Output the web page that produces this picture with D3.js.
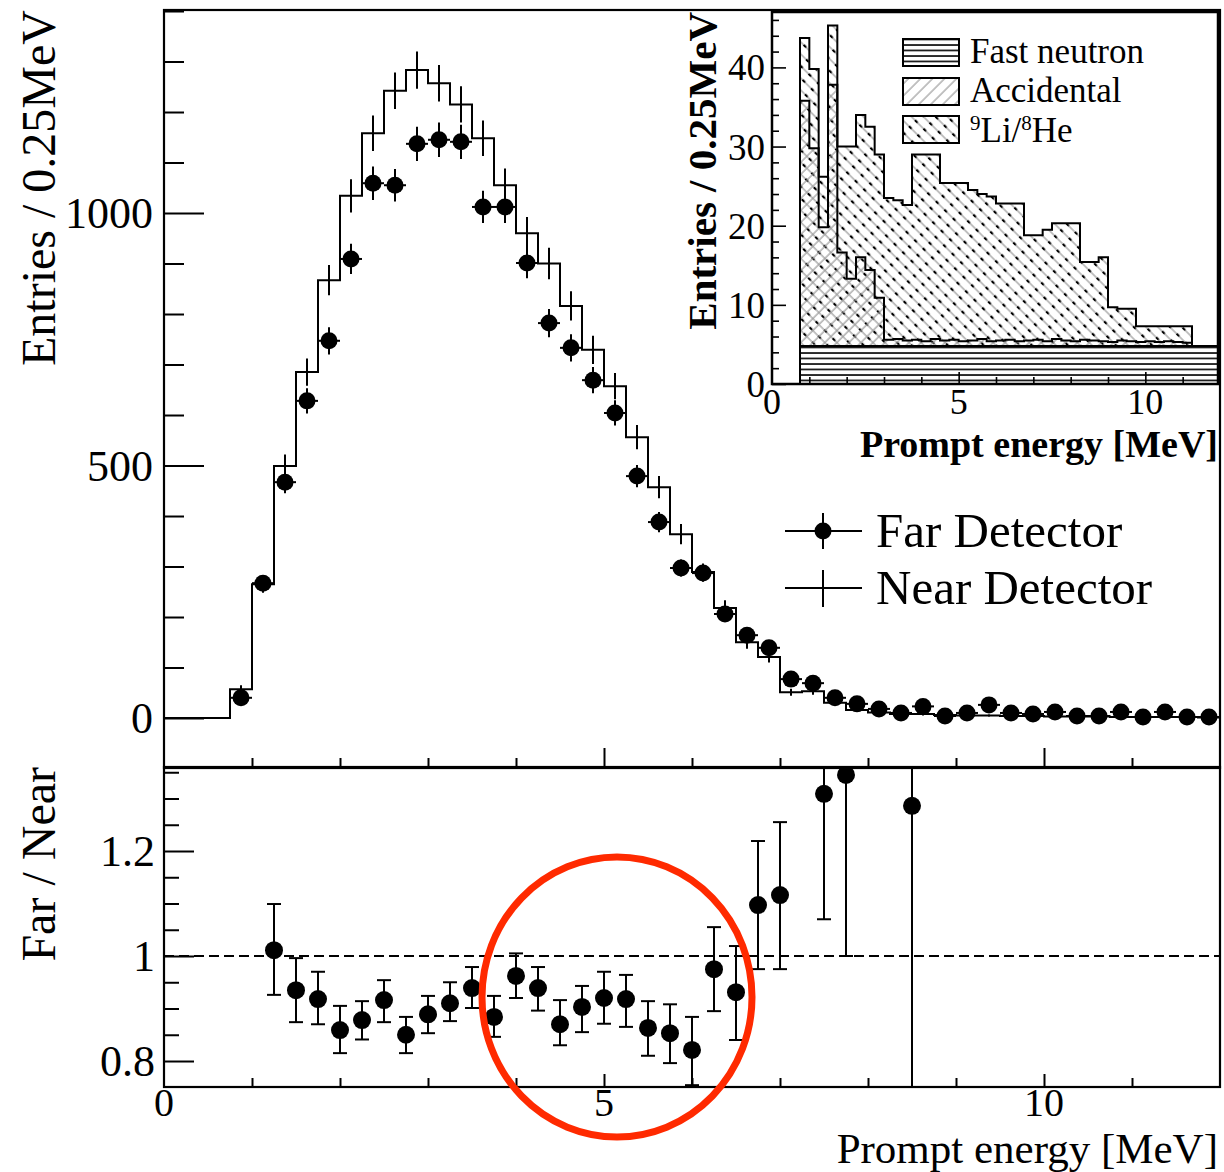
<!DOCTYPE html>
<html><head><meta charset="utf-8">
<script src="https://cdn.jsdelivr.net/npm/d3@7"></script>
<style>
body{margin:0;background:#fff}
svg{display:block}
text{font-family:"Liberation Serif","Times New Roman",serif;fill:#000}
</style>
</head><body>
<svg id="c" width="1224" height="1172"></svg>
<script>
// ---------------- DATA ----------------
// 0.25 MeV bins, low edges from 0.75 MeV to 11.75 MeV (45 bins)
const binLowEdges = d3.range(45).map(i => 0.75 + i * 0.25);
const binWidth = 0.25;

const nearCounts = [57,265,499,685,867,1034,1158,1242,1283,1257,1215,1148,1055,960,900,816,729,657,556,457,364,289,218,150,121,51,53,30,16,11,8,8,6,5,5,4,4,3,3,3,2,2,2,2,1];
const nearErrors = [8,17,23,27,30,33,35,36,37,36,36,35,33,32,31,29,28,26,24,22,20,17,15,13,11,7,7,6,4,3,3,3,2,2,2,2,2,2,2,2,1,1,1,1,1];

const farCounts = [40,267,467,628,747,909,1059,1055,1137,1145,1141,1012,1012,901,782,733,669,604,479,388,297,287,206,164,139,77,69,40,28,18,10,23,4,10,26,10,8,12,4,4,12,2,12,2,2];
const farErrors = [6,16,22,25,27,30,33,32,34,34,34,32,32,30,28,27,26,25,22,20,17,17,14,13,12,9,8,6,5,4,3,5,2,3,5,3,3,3,2,2,3,1,3,1,1];

const ratioEnergy = [1.25,1.5,1.75,2.0,2.25,2.5,2.75,3.0,3.25,3.5,3.75,4.0,4.25,4.5,4.75,5.0,5.25,5.5,5.75,6.0,6.25,6.5,6.75,7.0,7.5,7.75,8.5];
const ratioValue  = [1.011,0.935,0.918,0.859,0.878,0.916,0.850,0.889,0.910,0.939,0.884,0.962,0.939,0.870,0.903,0.920,0.918,0.863,0.853,0.821,0.975,0.931,1.097,1.116,1.309,1.345,1.286];
const ratioLow    = [0.926,0.874,0.870,0.815,0.841,0.874,0.815,0.853,0.876,0.901,0.846,0.920,0.896,0.830,0.855,0.871,0.865,0.810,0.796,0.754,0.895,0.840,0.975,0.975,1.070,1.000,0.000];
const ratioHigh   = [1.099,0.996,0.970,0.905,0.914,0.954,0.884,0.924,0.950,0.979,0.924,1.005,0.979,0.916,0.943,0.970,0.964,0.914,0.908,0.884,1.055,1.019,1.219,1.255,1.600,1.700,2.600];

// inset: background components per 0.25 MeV bin (same bins)
const fastNeutron = [4.8,4.8,4.8,4.8,4.8,4.8,4.8,4.8,4.8,4.8,4.8,4.8,4.8,4.8,4.8,4.8,4.8,4.8,4.8,4.8,4.8,4.8,4.8,4.8,4.8,4.8,4.8,4.8,4.8,4.8,4.8,4.8,4.8,4.8,4.8,4.8,4.8,4.8,4.8,4.8,4.8,4.8,4.8,4.8,4.8];
const accidental  = [31,25,15,33,11.8,8.5,11.2,9.6,6.1,0.8,0.9,0.7,0.8,0.6,0.9,0.7,0.8,0.6,0.7,0.9,0.6,0.7,0.8,0.6,0.7,0.8,0.6,0.9,0.7,0.6,0.8,0.7,0.6,0.5,0.7,0.6,0.5,0.6,0.5,0.6,0.5,0.4,0,0,0];
const li9he8      = [7.9,10.0,6.4,7.5,13.4,16.7,18.0,18.1,18.1,17.9,17.5,17.1,23.4,23.6,23.3,19.9,19.8,20.0,19.0,18.3,18.3,17.3,17.2,17.4,13.3,13.2,14.1,14.6,14.8,14.9,9.8,9.9,10.6,4.4,4.0,4.1,2.0,1.9,2.0,1.9,2.0,2.1,0,0,0];

const mainYTicks = [0,500,1000];
const ratioYTicks = [0.8,1,1.2];
const xTickLabels = [0,5,10];
const insetYTicks = [0,10,20,30,40];
const insetXTicks = [0,5,10];

// ---------------- SCALES ----------------
const svg = d3.select("#c");
const x  = d3.scaleLinear().domain([0,12]).range([164,1220]);
const y  = d3.scaleLinear().domain([-99,1402]).range([768,10]);
const yr = d3.scaleLinear().domain([0.7505,1.36]).range([1087,767]);
const xi = d3.scaleLinear().domain([0,12]).range([772,1220]);
const yi = d3.scaleLinear().domain([0,47]).range([384,12]);

const defs = svg.append("defs");
defs.append("clipPath").attr("id","clipMain").append("rect").attr("x",164).attr("y",10).attr("width",1056).attr("height",758);
defs.append("clipPath").attr("id","clipRatio").append("rect").attr("x",164).attr("y",767).attr("width",1056).attr("height",320);
defs.append("clipPath").attr("id","clipInset").append("rect").attr("x",772).attr("y",12).attr("width",446).attr("height",372);

// hatch patterns
const pFN = defs.append("pattern").attr("id","hFN").attr("patternUnits","userSpaceOnUse").attr("width",10).attr("height",5.5);
pFN.append("rect").attr("width",10).attr("height",5.5).attr("fill","#fff");
pFN.append("line").attr("x1",0).attr("x2",10).attr("y1",1).attr("y2",1).attr("stroke","#000").attr("stroke-width",1.6);

function diagPattern(id, angle, dashed){
  const p = defs.append("pattern").attr("id",id).attr("patternUnits","userSpaceOnUse")
    .attr("width",8.5).attr("height",12).attr("patternTransform",`rotate(${angle})`);
  p.append("line").attr("x1",1).attr("x2",1).attr("y1",0).attr("y2",12).attr("stroke","#9a9a9a").attr("stroke-width",1.2);
  if (dashed) p.append("line").attr("x1",1).attr("x2",1).attr("y1",0).attr("y2",3.5).attr("stroke","#000").attr("stroke-width",2.2);
}
diagPattern("hAcc", 45, false);
diagPattern("hLi", -45, true);

// ---------------- MAIN PANEL ----------------
const gMain = svg.append("g").attr("clip-path","url(#clipMain)");

const nearStepData = [{e:0,v:0}].concat(binLowEdges.map((b,i)=>({e:b,v:nearCounts[i]}))).concat([{e:12,v:nearCounts[nearCounts.length-1]}]);
gMain.append("path")
  .attr("d", d3.line().x(d=>x(d.e)).y(d=>y(d.v)).curve(d3.curveStepAfter)(nearStepData))
  .attr("fill","none").attr("stroke","#000").attr("stroke-width",2);

// near error bars
gMain.selectAll(".nerr").data(binLowEdges).enter().append("line")
  .attr("x1",(b)=>x(b+binWidth/2)).attr("x2",(b)=>x(b+binWidth/2))
  .attr("y1",(b,i)=>y(nearCounts[i]-nearErrors[i])).attr("y2",(b,i)=>y(nearCounts[i]+nearErrors[i]))
  .attr("stroke","#000").attr("stroke-width",2);

// far points
const farG = gMain.selectAll(".far").data(binLowEdges).enter().append("g");
farG.append("line")
  .attr("x1",b=>x(b)).attr("x2",b=>x(b+binWidth))
  .attr("y1",(b,i)=>y(farCounts[i])).attr("y2",(b,i)=>y(farCounts[i]))
  .attr("stroke","#000").attr("stroke-width",2);
farG.append("line")
  .attr("x1",b=>x(b+binWidth/2)).attr("x2",b=>x(b+binWidth/2))
  .attr("y1",(b,i)=>y(farCounts[i]-farErrors[i])).attr("y2",(b,i)=>y(farCounts[i]+farErrors[i]))
  .attr("stroke","#000").attr("stroke-width",2);
farG.append("circle")
  .attr("cx",b=>x(b+binWidth/2)).attr("cy",(b,i)=>y(farCounts[i])).attr("r",8.5).attr("fill","#000");

// main axes ticks
const minorMainY = d3.range(0,1401,100).filter(v=>!mainYTicks.includes(v));
svg.append("g").attr("transform","translate(164,0)")
  .call(d3.axisLeft(y).tickValues(minorMainY).tickSize(-20).tickFormat(""))
  .call(g=>g.select(".domain").remove()).selectAll("line").attr("stroke-width",2);
svg.append("g").attr("transform","translate(164,0)")
  .call(d3.axisLeft(y).tickValues(mainYTicks).tickSize(-40).tickFormat(""))
  .call(g=>g.select(".domain").remove()).selectAll("line").attr("stroke-width",2);
svg.selectAll(".ylab").data(mainYTicks).enter().append("text")
  .attr("x",153).attr("y",d=>y(d)+15).attr("text-anchor","end").attr("font-size",44).text(d=>d);

const minorX = d3.range(1,12).filter(v=>v%5!==0);
svg.append("g").attr("transform","translate(0,768)")
  .call(d3.axisBottom(x).tickValues(minorX).tickSize(-10).tickFormat(""))
  .call(g=>g.select(".domain").remove()).selectAll("line").attr("stroke-width",2);
svg.append("g").attr("transform","translate(0,768)")
  .call(d3.axisBottom(x).tickValues([5,10]).tickSize(-20).tickFormat(""))
  .call(g=>g.select(".domain").remove()).selectAll("line").attr("stroke-width",2);

svg.append("rect").attr("x",164).attr("y",10).attr("width",1056).attr("height",758)
  .attr("fill","none").attr("stroke","#000").attr("stroke-width",2.2);

svg.append("text").attr("transform","translate(55,10) rotate(-90)").attr("text-anchor","end")
  .attr("font-size",48).text("Entries / 0.25MeV");

// legend
const lg = svg.append("g");
lg.append("line").attr("x1",785).attr("x2",862).attr("y1",531).attr("y2",531).attr("stroke","#000").attr("stroke-width",2);
lg.append("line").attr("x1",823).attr("x2",823).attr("y1",513).attr("y2",549).attr("stroke","#000").attr("stroke-width",2);
lg.append("circle").attr("cx",823).attr("cy",531).attr("r",8.5).attr("fill","#000");
lg.append("line").attr("x1",785).attr("x2",862).attr("y1",588).attr("y2",588).attr("stroke","#000").attr("stroke-width",2);
lg.append("line").attr("x1",823).attr("x2",823).attr("y1",570).attr("y2",607).attr("stroke","#000").attr("stroke-width",2);
lg.append("text").attr("x",876).attr("y",547).attr("font-size",49).text("Far Detector");
lg.append("text").attr("x",876).attr("y",604).attr("font-size",49).text("Near Detector");

// ---------------- RATIO PANEL ----------------
const gR = svg.append("g").attr("clip-path","url(#clipRatio)");
gR.append("line").attr("x1",164).attr("x2",1220).attr("y1",yr(1)).attr("y2",yr(1))
  .attr("stroke","#000").attr("stroke-width",2).attr("stroke-dasharray","10,5");
const rG = gR.selectAll(".r").data(ratioEnergy).enter().append("g");
rG.append("line").attr("x1",d=>x(d)).attr("x2",d=>x(d))
  .attr("y1",(d,i)=>yr(ratioLow[i])).attr("y2",(d,i)=>yr(ratioHigh[i]))
  .attr("stroke","#000").attr("stroke-width",2);
rG.each(function(d,i){
  const g = d3.select(this);
  [ratioLow[i], ratioHigh[i]].forEach(v=>{
    if (v > 0.7505 && v < 1.36) {
      g.append("line").attr("x1",x(d)-7).attr("x2",x(d)+7).attr("y1",yr(v)).attr("y2",yr(v))
        .attr("stroke","#000").attr("stroke-width",2);
    }
  });
});
rG.append("circle").attr("cx",d=>x(d)).attr("cy",(d,i)=>yr(ratioValue[i])).attr("r",9).attr("fill","#000");

const minorRY = d3.range(16,28).map(k=>+(k*0.05).toFixed(2)).filter(v=>!ratioYTicks.includes(v));
svg.append("g").attr("transform","translate(164,0)")
  .call(d3.axisLeft(yr).tickValues(minorRY).tickSize(-15).tickFormat(""))
  .call(g=>g.select(".domain").remove()).selectAll("line").attr("stroke-width",2);
svg.append("g").attr("transform","translate(164,0)")
  .call(d3.axisLeft(yr).tickValues(ratioYTicks).tickSize(-30).tickFormat(""))
  .call(g=>g.select(".domain").remove()).selectAll("line").attr("stroke-width",2);
svg.selectAll(".rylab").data(ratioYTicks).enter().append("text")
  .attr("x",155).attr("y",d=>yr(d)+15).attr("text-anchor","end").attr("font-size",44).text(d=>d);

svg.append("g").attr("transform","translate(0,1087)")
  .call(d3.axisBottom(x).tickValues(minorX).tickSize(-9).tickFormat(""))
  .call(g=>g.select(".domain").remove()).selectAll("line").attr("stroke-width",2);
svg.append("g").attr("transform","translate(0,1087)")
  .call(d3.axisBottom(x).tickValues([5,10]).tickSize(-13).tickFormat(""))
  .call(g=>g.select(".domain").remove()).selectAll("line").attr("stroke-width",2);
svg.selectAll(".xlab").data(xTickLabels).enter().append("text")
  .attr("x",d=>x(d)).attr("y",1116).attr("text-anchor","middle").attr("font-size",40).text(d=>d);

svg.append("rect").attr("x",164).attr("y",767).attr("width",1056).attr("height",320)
  .attr("fill","none").attr("stroke","#000").attr("stroke-width",2.2);

svg.append("text").attr("transform","translate(55,767) rotate(-90)").attr("text-anchor","end")
  .attr("font-size",48).text("Far / Near");
svg.append("text").attr("x",1218).attr("y",1163).attr("text-anchor","end")
  .attr("font-size",43).text("Prompt energy [MeV]");

// ---------------- INSET ----------------
const gI = svg.append("g");
gI.append("rect").attr("x",772).attr("y",12).attr("width",446).attr("height",372).attr("fill","#fff");
const gIC = gI.append("g").attr("clip-path","url(#clipInset)");

const cumFN = fastNeutron.slice();
const cumAcc = fastNeutron.map((v,i)=>v+accidental[i]);
const cumTot = cumAcc.map((v,i)=>v+li9he8[i]);

function stepData(vals){
  return binLowEdges.map((b,i)=>({e:b,v:vals[i]})).concat([{e:12,v:vals[vals.length-1]}]);
}
const areaGen = d3.area().x(d=>xi(d.e)).y0(yi(0)).y1(d=>yi(d.v)).curve(d3.curveStepAfter);
const lineGen = d3.line().x(d=>xi(d.e)).y(d=>yi(d.v)).curve(d3.curveStepAfter);
function outline(vals){
  const pts = [{e:binLowEdges[0],v:0}].concat(stepData(vals));
  return lineGen(pts);
}
[[cumTot,"url(#hLi)"],[cumAcc,"url(#hAcc)"],[cumFN,"url(#hFN)"]].forEach(([vals,fill])=>{
  gIC.append("path").attr("d",areaGen(stepData(vals))).attr("fill",fill);
  gIC.append("path").attr("d",outline(vals)).attr("fill","none").attr("stroke","#000").attr("stroke-width",2);
});

// inset ticks
svg.append("g").attr("transform","translate(772,0)")
  .call(d3.axisLeft(yi).tickValues(d3.range(2,47,2).filter(v=>v%10!==0)).tickSize(-7).tickFormat(""))
  .call(g=>g.select(".domain").remove()).selectAll("line").attr("stroke-width",1.6);
svg.append("g").attr("transform","translate(772,0)")
  .call(d3.axisLeft(yi).tickValues(insetYTicks).tickSize(-14).tickFormat(""))
  .call(g=>g.select(".domain").remove()).selectAll("line").attr("stroke-width",1.6);
svg.append("g").attr("transform","translate(0,384)")
  .call(d3.axisBottom(xi).tickValues(minorX).tickSize(-7).tickFormat(""))
  .call(g=>g.select(".domain").remove()).selectAll("line").attr("stroke-width",1.6);
svg.append("g").attr("transform","translate(0,384)")
  .call(d3.axisBottom(xi).tickValues([5,10]).tickSize(-12).tickFormat(""))
  .call(g=>g.select(".domain").remove()).selectAll("line").attr("stroke-width",1.6);

gI.append("rect").attr("x",772).attr("y",12).attr("width",446).attr("height",372)
  .attr("fill","none").attr("stroke","#000").attr("stroke-width",2.5);

svg.selectAll(".iylab").data(insetYTicks).enter().append("text")
  .attr("x",765).attr("y",d=>yi(d)+13).attr("text-anchor","end").attr("font-size",37).text(d=>d);
svg.selectAll(".ixlab").data(insetXTicks).enter().append("text")
  .attr("x",d=>xi(d)).attr("y",414).attr("text-anchor","middle").attr("font-size",36).text(d=>d);
svg.append("text").attr("x",1218).attr("y",457).attr("text-anchor","end")
  .attr("font-size",38).attr("font-weight","bold").text("Prompt energy [MeV]");
svg.append("text").attr("transform","translate(716,12) rotate(-90)").attr("text-anchor","end")
  .attr("font-size",41).attr("font-weight","bold").text("Entries / 0.25MeV");

// inset legend
const ilg = svg.append("g");
[["url(#hFN)",39],["url(#hAcc)",78],["url(#hLi)",116]].forEach(([f,yy])=>{
  ilg.append("rect").attr("x",903).attr("y",yy).attr("width",56).attr("height",27)
    .attr("fill",f).attr("stroke","#000").attr("stroke-width",2);
});
ilg.append("text").attr("x",970).attr("y",63).attr("font-size",35).text("Fast neutron");
ilg.append("text").attr("x",970).attr("y",102).attr("font-size",35).text("Accidental");
const t3 = ilg.append("text").attr("x",970).attr("y",142).attr("font-size",35);
t3.append("tspan").attr("font-size",21).attr("dy",-12).text("9");
t3.append("tspan").attr("dy",12).text("Li/");
t3.append("tspan").attr("font-size",21).attr("dy",-12).text("8");
t3.append("tspan").attr("dy",12).text("He");

// annotation circle
svg.append("ellipse").attr("cx",617).attr("cy",997).attr("rx",135).attr("ry",140)
  .attr("fill","none").attr("stroke","#ff2a00").attr("stroke-width",7);
</script>
</body></html>
